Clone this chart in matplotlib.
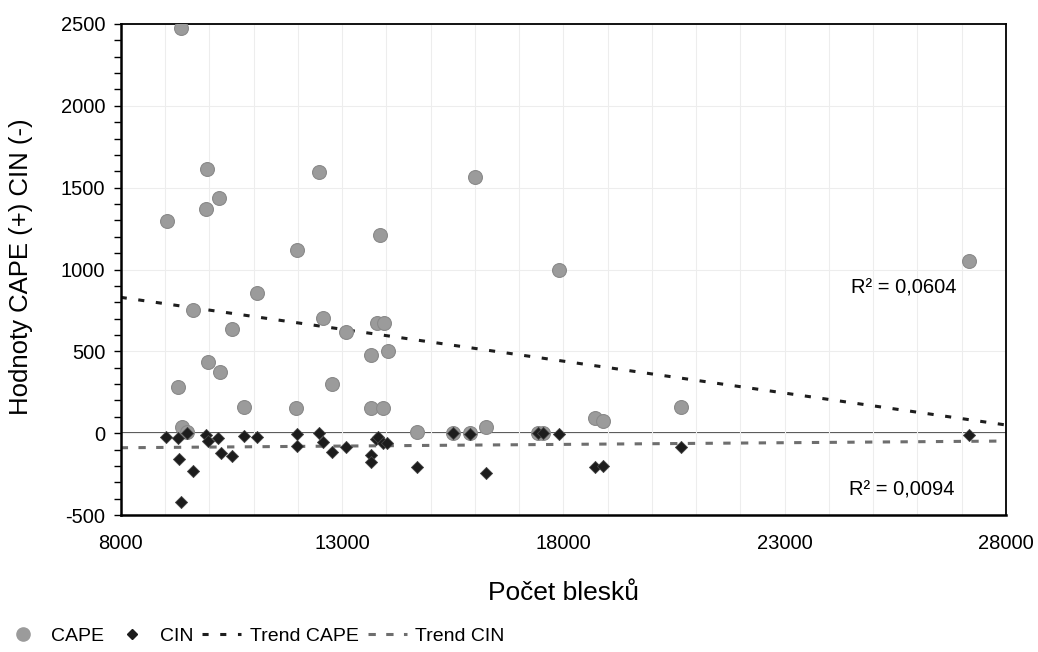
import matplotlib
matplotlib.use('Agg')
import matplotlib.pyplot as plt
import numpy as np
from matplotlib.ticker import MultipleLocator
from matplotlib.lines import Line2D

plt.rcParams['font.family'] = ['Liberation Sans', 'DejaVu Sans']
plt.rcParams['axes.unicode_minus'] = False

# CAPE values (pocet blesku, J/kg)
cape_x = [9362, 9957, 10214, 9920, 9046, 12479, 16003, 11975, 13857, 11086,
          17907, 27170, 9640, 10507, 12577, 13090, 13783, 13948, 13647, 14030,
          9979, 10243, 12773, 9287, 10792, 11960, 13647, 13918, 9378, 9504,
          14700, 15513, 15890, 16245, 17433, 17546, 18714, 18902, 20648]
cape_y = [2473, 1612, 1438, 1371, 1296, 1595, 1567, 1117, 1213, 854,
          997, 1053, 752, 636, 705, 620, 675, 671, 477, 502,
          437, 372, 300, 284, 158, 155, 152, 152, 40, 5,
          10, 0, 0, 36, 0, 0, 91, 76, 161]

# CIN values (negative)
cin_x = [9023, 9287, 9505, 9324, 9362, 9640, 9920, 9979, 10190, 10259,
         10507, 10792, 11072, 11975, 11975, 12473, 12577, 12780, 13090, 13647,
         13647, 13767, 13817, 13933, 14023, 14700, 15513, 15890, 16245, 17433,
         17546, 17893, 18714, 18902, 20648, 27167]
cin_y = [-22, -32, 0, -158, -419, -229, -11, -46, -32, -119,
         -140, -17, -22, -5, -77, 0, -52, -113, -83, -133,
         -174, -38, -22, -58, -62, -205, 0, -3, -242, 0,
         0, -3, -205, -201, -83, -10]

# linear trends (value at 8000 and at 28000)
trend_x = [8000, 28000]
trend_cape = [830, 50]
trend_cin = [-89, -48]
r2_cape = 'R² = 0,0604'
r2_cin = 'R² = 0,0094'

xticks = [8000, 13000, 18000, 23000, 28000]

fig = plt.figure(figsize=(10.38, 6.52), dpi=100)
ax = fig.add_axes([0.1163, 0.2101, 0.8529, 0.7531])

ax.set_xlim(8000, 28000)
ax.set_ylim(-500, 2500)
ax.set_xticks(xticks)
ax.xaxis.set_minor_locator(MultipleLocator(1000))
ax.yaxis.set_major_locator(MultipleLocator(500))
ax.yaxis.set_minor_locator(MultipleLocator(100))

# faint grid
ax.grid(which='both', axis='x', color='#ededed', lw=0.8, zorder=0)
ax.grid(which='major', axis='y', color='#ededed', lw=0.8, zorder=0)

ax.axhline(0, color='#222222', lw=1.1, zorder=1)

ax.plot(trend_x, trend_cape, color='#1e1e1e', lw=2.2, ls=(0, (2.0, 3.8)), zorder=2)
ax.plot(trend_x, trend_cin, color='#6e6e6e', lw=2.2, ls=(0, (2.4, 3.4)), zorder=2)

ax.scatter(cape_x, cape_y, s=100, color='#9b9b9b', edgecolors='#8a8a8a', linewidths=0.8, zorder=3)
ax.scatter(cin_x, cin_y, s=38, marker='D', color='#1c1c1c', edgecolors='#444444', linewidths=0.6, zorder=4)

ax.text(25690, 887, r2_cape, fontsize=14.5, ha='center', va='center')
ax.text(25650, -347, r2_cin, fontsize=14.5, ha='center', va='center')

for sp in ['left', 'bottom']:
    ax.spines[sp].set_linewidth(1.8)
for sp in ['top', 'right']:
    ax.spines[sp].set_linewidth(1.3)

ax.tick_params(axis='x', which='both', length=0, pad=14, labelsize=14.5)
ax.tick_params(axis='y', which='major', length=5, width=1, pad=6, labelsize=14.5)
ax.tick_params(axis='y', which='minor', length=5, width=1)

ax.set_xlabel('Počet blesků', fontsize=19, labelpad=20)
ax.set_ylabel('Hodnoty CAPE (+) CIN (-)', fontsize=18.5)
ax.yaxis.set_label_coords(-0.099, 0.505)

handles = [
    Line2D([], [], ls='none', marker='o', ms=9.5, color='#9b9b9b'),
    Line2D([], [], ls='none', marker='D', ms=5, color='#1c1c1c'),
    Line2D([], [], color='#1e1e1e', lw=2.2, ls=(0, (2.0, 3.8))),
    Line2D([], [], color='#6e6e6e', lw=2.2, ls=(0, (2.4, 3.4))),
]
fig.legend(handles, ['CAPE', 'CIN', 'Trend CAPE', 'Trend CIN'],
           loc='center left', bbox_to_anchor=(0.003, 0.024), ncol=4, frameon=False,
           fontsize=14, handlelength=2.0, handletextpad=0.45, columnspacing=0.45,
           borderaxespad=0, borderpad=0)

fig.savefig('out.png', dpi=100)
